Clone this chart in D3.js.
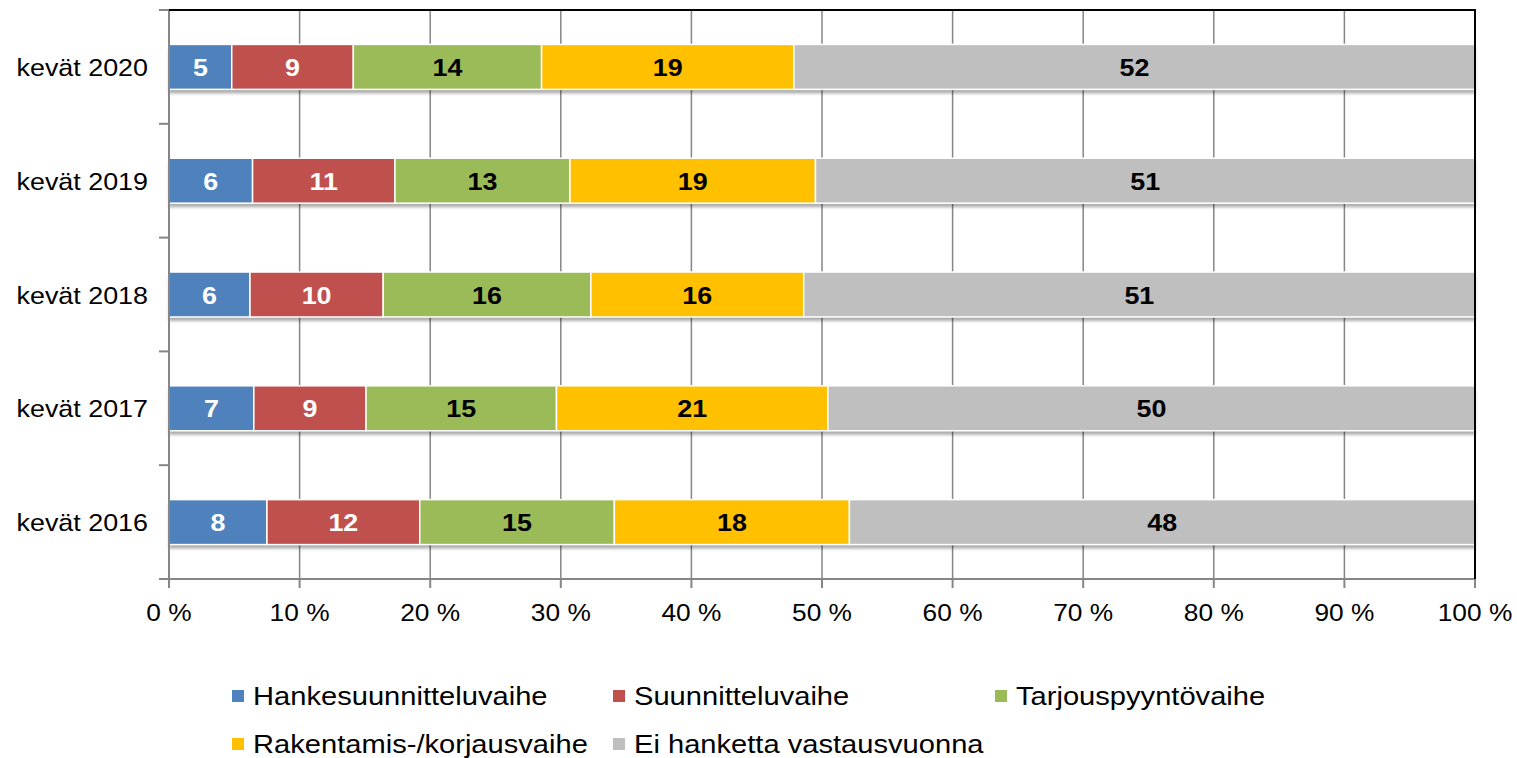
<!DOCTYPE html>
<html>
<head>
<meta charset="utf-8">
<script src="https://cdn.jsdelivr.net/npm/d3@7"></script>
<style>
body { margin: 0; background: #fff; }
svg { display: block; }
text { font-family: Arial, "Liberation Sans", sans-serif; }
</style>
</head>
<body>
<svg id="chart" width="1517" height="758"></svg>
<script>
// values (percent of answers)
var categories = ["kevät 2020", "kevät 2019", "kevät 2018", "kevät 2017", "kevät 2016"];
var seriesNames = ["Hankesuunnitteluvaihe", "Suunnitteluvaihe", "Tarjouspyyntövaihe",
                   "Rakentamis-/korjausvaihe", "Ei hanketta vastausvuonna"];
var seriesColors = ["#4F81BD", "#C0504D", "#9BBB59", "#FFC000", "#BFBFBF"];
var labelColors = ["#fff", "#fff", "#000", "#000", "#000"];

var hanke       = [4.8, 6.4, 6.2, 6.5, 7.5];
var suunnittelu = [9.3, 10.9, 10.2, 8.6, 11.7];
var tarjous     = [14.4, 13.4, 15.9, 14.6, 14.9];
var rakentamis  = [19.3, 18.8, 16.3, 20.8, 18.0];
var eiHanketta  = [52.1, 50.5, 51.4, 49.6, 47.9];

var xTicks = [0, 10, 20, 30, 40, 50, 60, 70, 80, 90, 100];

// text in the original is a bit wider than Arial, stretch it
var SX = 1.12;

var svg = d3.select("#chart");
var plotLeft = 169, plotRight = 1475, plotTop = 10, plotBottom = 579;

var rows = categories.map(function(c, i) {
    return { name: c, s0: hanke[i], s1: suunnittelu[i], s2: tarjous[i], s3: rakentamis[i], s4: eiHanketta[i] };
});
var keys = ["s0", "s1", "s2", "s3", "s4"];
var stacked = d3.stack().keys(keys).offset(d3.stackOffsetExpand)(rows);

var x = d3.scaleLinear().domain([0, 1]).range([plotLeft, plotRight]);
var y = d3.scaleBand().domain(categories).range([plotTop, plotBottom])
    .paddingInner(0.605).paddingOuter(0.3025);

function stretchText(sel, fx, fy) {
    sel.attr("transform", function(d, i) {
        return "translate(" + fx(d, i) + "," + fy(d, i) + ") scale(" + SX + ",1)";
    });
}

var defs = svg.append("defs");
var f = defs.append("filter").attr("id", "shadow")
    .attr("x", "-5%").attr("y", "-20%").attr("width", "110%").attr("height", "160%");
f.append("feDropShadow").attr("dx", 0).attr("dy", 4).attr("stdDeviation", 1.6)
    .attr("flood-color", "#000").attr("flood-opacity", 0.32);

// vertical grid
svg.append("g").selectAll("line").data(xTicks.slice(1, -1)).enter().append("line")
    .attr("x1", function(d) { return x(d / 100); }).attr("x2", function(d) { return x(d / 100); })
    .attr("y1", plotTop).attr("y2", plotBottom)
    .attr("stroke", "#868686").attr("stroke-width", 1.5);

// bars
var barG = svg.append("g");
// one shadow under each whole row
barG.selectAll("rect.shadow").data(categories).enter().append("rect")
    .attr("class", "shadow")
    .attr("x", x(0)).attr("width", x(1) - x(0))
    .attr("y", function(d) { return y(d); }).attr("height", y.bandwidth())
    .attr("fill", "#fff").attr("filter", "url(#shadow)");

var layers = barG.selectAll("g.layer").data(stacked).enter().append("g")
    .attr("class", "layer")
    .attr("fill", function(d, i) { return seriesColors[i]; });

layers.selectAll("rect").data(function(d) { return d; }).enter().append("rect")
    .attr("x", function(d) { return x(d[0]); })
    .attr("width", function(d) { return x(d[1]) - x(d[0]); })
    .attr("y", function(d) { return y(d.data.name); })
    .attr("height", y.bandwidth())
    .attr("stroke", "#fff").attr("stroke-width", 1.5);

// data labels
layers.each(function(layer, li) {
    var t = d3.select(this).selectAll("text").data(layer).enter().append("text")
        .attr("text-anchor", "middle")
        .attr("font-size", "24px").attr("font-weight", "bold")
        .attr("fill", labelColors[li])
        .text(function(d) { return Math.round(d.data[keys[li]]); });
    stretchText(t, function(d) { return (x(d[0]) + x(d[1])) / 2; },
        function(d) { return y(d.data.name) + y.bandwidth() / 2 + 9; });
});

// axes
var axG = svg.append("g");
axG.append("line").attr("x1", plotLeft).attr("x2", plotLeft).attr("y1", plotTop).attr("y2", plotBottom)
    .attr("stroke", "#868686").attr("stroke-width", 2);
axG.append("line").attr("x1", plotLeft - 10).attr("x2", plotRight).attr("y1", plotBottom).attr("y2", plotBottom)
    .attr("stroke", "#868686").attr("stroke-width", 2);
// ticks on the category boundaries
var bounds = d3.range(categories.length + 1).map(function(i) { return plotTop + i * y.step(); });
axG.selectAll("line.ytick").data(bounds).enter().append("line")
    .attr("x1", plotLeft - 10).attr("x2", plotLeft)
    .attr("y1", function(d) { return d; }).attr("y2", function(d) { return d; })
    .attr("stroke", "#868686").attr("stroke-width", 2);
axG.selectAll("line.xtick").data(xTicks).enter().append("line")
    .attr("x1", function(d) { return x(d / 100); }).attr("x2", function(d) { return x(d / 100); })
    .attr("y1", plotBottom).attr("y2", plotBottom + 9)
    .attr("stroke", "#868686").attr("stroke-width", 2);

// top and right frame
svg.append("path")
    .attr("d", "M" + plotLeft + "," + plotTop + "H" + plotRight + "V" + plotBottom)
    .attr("fill", "none").attr("stroke", "#000").attr("stroke-width", 2);

var xl = axG.selectAll("text.xl").data(xTicks).enter().append("text")
    .attr("text-anchor", "middle").attr("font-size", "23.5px").attr("fill", "#000")
    .text(function(d) { return d + " %"; });
stretchText(xl, function(d) { return x(d / 100); }, function() { return 621; });

var yl = axG.selectAll("text.yl").data(categories).enter().append("text")
    .attr("text-anchor", "end").attr("font-size", "24px").attr("fill", "#000")
    .text(function(d) { return d; });
stretchText(yl, function() { return 148; }, function(d) { return y(d) + y.bandwidth() / 2 + 9; });

// legend
var colX = [232, 613, 995], rowY = [690, 738];
var lg = svg.append("g").selectAll("g").data(seriesNames).enter().append("g")
    .attr("transform", function(d, i) {
        return "translate(" + colX[i % 3] + "," + rowY[Math.floor(i / 3)] + ")";
    });
lg.append("rect").attr("width", 12).attr("height", 12)
    .attr("fill", function(d, i) { return seriesColors[i]; });
var lt = lg.append("text").attr("font-size", "26px").attr("fill", "#000")
    .text(function(d) { return d; });
stretchText(lt, function() { return 21; }, function() { return 15; });
</script>
</body>
</html>
